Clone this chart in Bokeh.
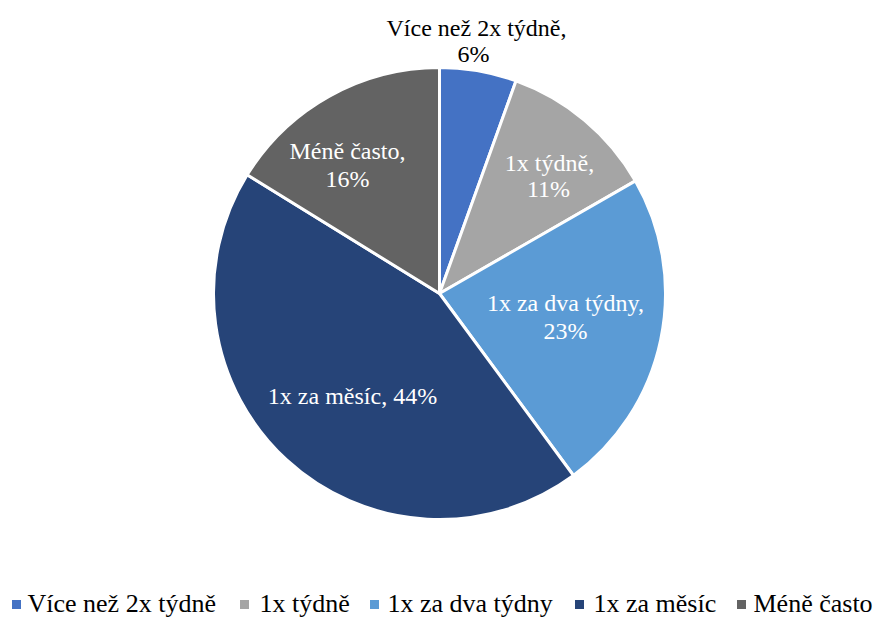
import math
from bokeh.plotting import figure
from bokeh.models import Range1d, ColumnDataSource
from bokeh.core.properties import value
from bokeh.embed import file_html
from bokeh.resources import INLINE

categories = ["Více než 2x týdně", "1x týdně", "1x za dva týdny", "1x za měsíc", "Méně často"]
shares = [5.5, 11.2, 23.2, 43.9, 16.2]
pct_labels = ["6%", "11%", "23%", "44%", "16%"]
colors = ["#4472C4", "#A5A5A5", "#5B9BD5", "#264478", "#636363"]

W, H = 875, 619
FONT = "Liberation Serif"
FS = "24px"
LEG_FS = "26px"

p = figure(width=W, height=H, output_backend="svg", toolbar_location=None,
           x_range=Range1d(0, W), y_range=Range1d(0, H),
           min_border=0, outline_line_color=None)
p.axis.visible = False
p.grid.visible = False
p.background_fill_color = "white"

def px(ix):
    return ix

def py(iy):
    return H - iy

cx, cy, r = px(439), py(293), 226

total = sum(shares)
starts, ends = [], []
acc = 0.0
for s in shares:
    starts.append(math.pi / 2 - 2 * math.pi * acc / total)
    acc += s
    ends.append(math.pi / 2 - 2 * math.pi * acc / total)

src = ColumnDataSource(dict(start=starts, end=ends, color=colors, cat=categories))
p.wedge(x=cx, y=cy, radius=r, start_angle="start", end_angle="end",
        direction="clock", fill_color="color", line_color="white", line_width=3,
        source=src)

# data labels (two-line except the big slice)
label_pos = [
    ((476, 27), (473, 53), "black"),
    ((549, 162), (548, 188), "white"),
    ((565, 302), (565, 330), "white"),
    None,
    ((347, 150), (347, 178), "white"),
]
for i, lp in enumerate(label_pos):
    if lp is None:
        p.text(x=[px(352)], y=[py(395)], text=[categories[i] + ", " + pct_labels[i]],
               text_font=value(FONT), text_font_size=FS, text_color="white",
               text_align="center", text_baseline="middle")
        continue
    (ax, ay), (bx, by), col = lp
    p.text(x=[px(ax)], y=[py(ay)], text=[categories[i] + ","],
           text_font=value(FONT), text_font_size=FS, text_color=col,
           text_align="center", text_baseline="middle")
    p.text(x=[px(bx)], y=[py(by)], text=[pct_labels[i]],
           text_font=value(FONT), text_font_size=FS, text_color=col,
           text_align="center", text_baseline="middle")

# legend
leg_marker_x = [16, 244, 374, 579, 741]
leg_text_x = [27, 259, 387, 593, 753]
p.scatter(x=[px(v) for v in leg_marker_x], y=[py(604)] * 5, marker="square",
          size=9, fill_color=colors, line_color=None)
p.text(x=[px(v) for v in leg_text_x], y=[py(603)] * 5, text=categories,
       text_font=value(FONT), text_font_size=LEG_FS, text_color="black",
       text_align="left", text_baseline="middle")

open("out.html", "w").write(file_html(p, INLINE))
